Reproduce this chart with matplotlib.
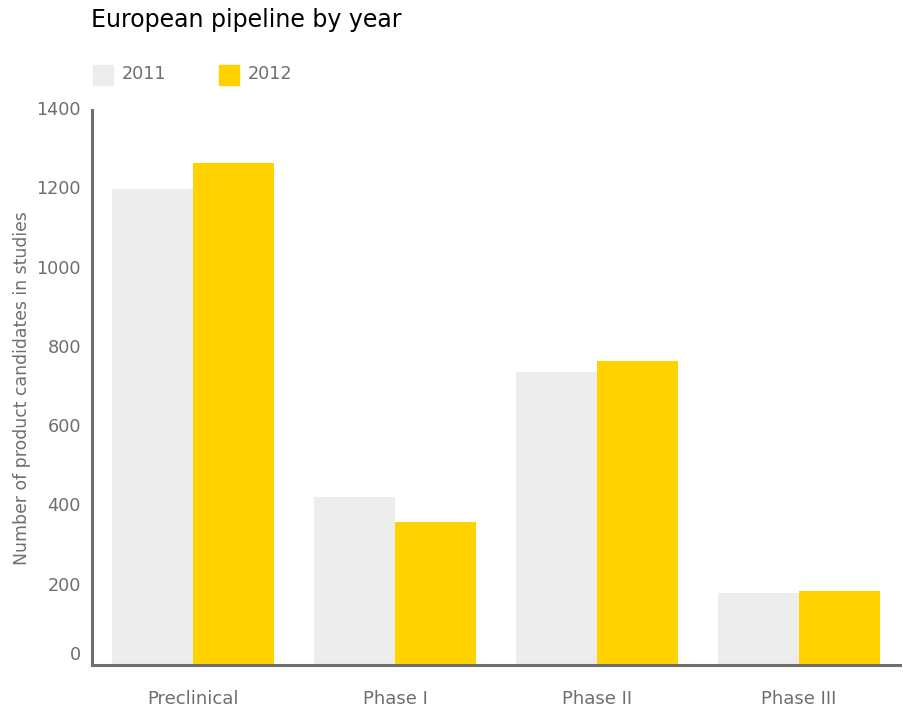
import matplotlib
matplotlib.use("Agg")
import matplotlib.pyplot as plt
import matplotlib.transforms as mtransforms
import numpy as np

categories = ["Preclinical", "Phase I", "Phase II", "Phase III"]
years = ["2011", "2012"]
values_2011 = [1200, 424, 739, 182]
values_2012 = [1266, 361, 767, 187]
y_ticks = [0, 200, 400, 600, 800, 1000, 1200, 1400]

color_2011 = "#ededed"
color_2012 = "#ffd200"
axis_gray = "#6e6e6e"
text_gray = "#6e6e6e"

plt.rcParams["font.family"] = ["DejaVu Sans"]

W, H = 904, 713
fig = plt.figure(figsize=(W / 100, H / 100), dpi=100)
ax = fig.add_axes([92 / W, (H - 665) / H, (900 - 92) / W, (665 - 110) / H])

x = np.arange(len(categories))
bw = 0.4
ax.bar(x - bw / 2, values_2011, width=bw, color=color_2011, zorder=1)
ax.bar(x + bw / 2, values_2012, width=bw, color=color_2012, zorder=1)

ax.set_xlim(-0.5, len(categories) - 0.5)
ax.set_ylim(0, 1400)

for side in ("top", "right"):
    ax.spines[side].set_visible(False)
for side in ("left", "bottom"):
    ax.spines[side].set_color(axis_gray)
    ax.spines[side].set_linewidth(2.2)
    ax.spines[side].set_zorder(3)

ax.set_xticks(x)
ax.set_xticklabels(categories, fontsize=13, color=text_gray)
ax.tick_params(axis="x", length=0, pad=18)

ax.set_yticks(y_ticks)
ax.set_yticklabels([])
ax.tick_params(axis="y", direction="in", length=1.5, width=0.8, color="white")

# y tick labels drawn as text so the zero label can sit just above the baseline
trans = mtransforms.blended_transform_factory(ax.transAxes, ax.transData)
for v in y_ticks:
    t = trans
    if v == 0:
        t = mtransforms.offset_copy(trans, fig=fig, y=10, units="dots")
    ax.text(-11 / (900 - 92), v, str(v), transform=t, ha="right", va="center",
            fontsize=12.7, color=text_gray)

fig.text(22 / W, 1 - 388 / H, "Number of product candidates in studies",
         rotation=90, ha="center", va="center", fontsize=12.4, color=text_gray)

fig.text(91 / W, 1 - 20 / H, "European pipeline by year", ha="left", va="center",
         fontsize=17, color="black")

# legend
for (x0, label, col) in [(93, years[0], color_2011), (219, years[1], color_2012)]:
    fig.patches.append(plt.Rectangle((x0 / W, 1 - 85 / H), 20 / W, 20 / H,
                                     transform=fig.transFigure, color=col))
    fig.text((x0 + 29) / W, 1 - 74 / H, label, ha="left", va="center",
             fontsize=12.7, color=text_gray)

fig.savefig("out.png", dpi=100)
